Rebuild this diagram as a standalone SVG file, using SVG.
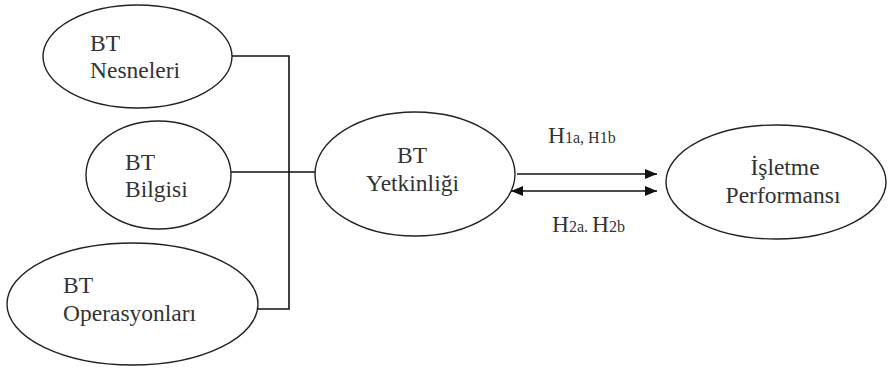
<svg xmlns="http://www.w3.org/2000/svg" width="890" height="368" viewBox="0 0 890 368">
  <style>
    .node ellipse { fill: #ffffff; stroke: #222222; stroke-width: 1.4; }
    .label { font-family: "Liberation Serif", "Times New Roman", serif; font-size: 23.5px; fill: #333333; }
    .small { font-size: 16px; }
    .wire { fill: none; stroke: #111111; stroke-width: 1.6; }
  </style>
  <defs>
    <marker id="head" viewBox="0 0 12 10" refX="12" refY="5" markerWidth="12" markerHeight="10" markerUnits="userSpaceOnUse" orient="auto-start-reverse">
      <path d="M0,0 L12,5 L0,10 Z" fill="#111111"/>
    </marker>
  </defs>

  <rect width="890" height="368" fill="#ffffff"/>

  <g id="connectors">
    <!-- inputs joined by a vertical bus -->
    <path class="wire" d="M232,56 H289 V309 H258"/>
    <path class="wire" d="M231,172 H315"/>
    <!-- hypothesis arrows -->
    <path class="wire" d="M517,174 H657" marker-end="url(#head)"/>
    <path class="wire" d="M511,191 H657" marker-start="url(#head)" marker-end="url(#head)"/>
  </g>

  <g id="bt-nesneleri" class="node">
    <ellipse cx="137.5" cy="56.5" rx="94.5" ry="51.5"/>
    <text class="label" x="90" y="51">BT</text>
    <text class="label" x="90" y="78">Nesneleri</text>
  </g>

  <g id="bt-bilgisi" class="node">
    <ellipse cx="158.5" cy="175" rx="72.5" ry="54"/>
    <text class="label" x="125" y="170">BT</text>
    <text class="label" x="125" y="197">Bilgisi</text>
  </g>

  <g id="bt-operasyonlari" class="node">
    <ellipse cx="132.5" cy="304" rx="125.5" ry="61"/>
    <text class="label" x="63" y="293">BT</text>
    <text class="label" x="63" y="321">Operasyonları</text>
  </g>

  <g id="bt-yetkinligi" class="node">
    <ellipse cx="415" cy="174" rx="100" ry="62"/>
    <text class="label" x="412" y="163" text-anchor="middle">BT</text>
    <text class="label" x="412.5" y="191" text-anchor="middle">Yetkinliği</text>
  </g>

  <g id="isletme-performansi" class="node">
    <ellipse cx="776" cy="182" rx="110" ry="57"/>
    <text class="label" x="785" y="175" text-anchor="middle">İşletme</text>
    <text class="label" x="783" y="203" text-anchor="middle">Performansı</text>
  </g>

  <g id="hypothesis-labels">
    <text class="label" x="548" y="143">H<tspan class="small">1a, H1b</tspan></text>
    <text class="label" x="552" y="232">H<tspan class="small">2a. </tspan>H<tspan class="small">2b</tspan></text>
  </g>
</svg>
